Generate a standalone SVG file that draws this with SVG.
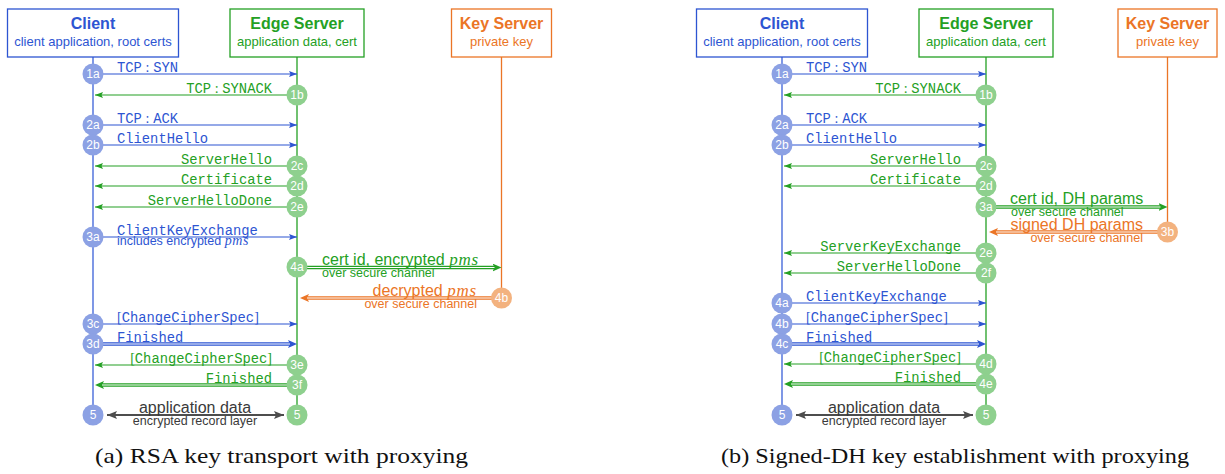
<svg xmlns="http://www.w3.org/2000/svg" width="1225" height="474" viewBox="0 0 1225 474">
<style>
.bg{fill:#fff}
.bx{fill:#fff;stroke-width:1.3}
.bxb{stroke:#2d55d2}.bxg{stroke:#24a024}.bxo{stroke:#eb7526}
.hd{font-family:"Liberation Sans",Arial,sans-serif;font-weight:bold;font-size:16px;text-anchor:middle}
.sub{font-family:"Liberation Sans",Arial,sans-serif;font-size:13px;text-anchor:middle}
.tb{fill:#2d55d2}.tg{fill:#24a024}.to{fill:#eb7526}.tk{fill:#3a3a3a}
.msg{font-family:"Liberation Mono","Courier New",monospace;font-size:13.8px}
.br{font-family:"Liberation Serif","Times New Roman",serif;font-size:14px}
.ks{font-family:"Liberation Sans",Arial,sans-serif;font-size:16px}
.sm{font-family:"Liberation Sans",Arial,sans-serif;font-size:12.5px}
.pms{font-family:"Liberation Serif","Times New Roman",serif;font-style:italic;font-size:17px;letter-spacing:0.8px}
.pmss{font-family:"Liberation Serif","Times New Roman",serif;font-style:italic;font-size:14px;letter-spacing:0.6px}
.end{text-anchor:end}.mid{text-anchor:middle}
.num{font-family:"Liberation Sans",Arial,sans-serif;font-size:12px;fill:#fff;text-anchor:middle}
.cb{fill:#8ca1e4}.cg{fill:#8ed08e}.co{fill:#f3b27f}
.life{stroke-width:1.3;fill:none}
.lb{stroke:#3a60d8}.lg{stroke:#24a024}.lo{stroke:#eb7526}
.ar{stroke-width:1.2;fill:none}
.ab{stroke:#2d55d2;marker-end:url(#mb)}
.ag{stroke:#24a024;marker-end:url(#mg)}
.dw{stroke-width:3.4;fill:none}
.db{stroke:#2d55d2;marker-end:url(#mb2)}
.dg{stroke:#24a024;marker-end:url(#mg2)}
.do{stroke:#eb7526;marker-end:url(#mo2)}
.wi{stroke:#fff;stroke-width:1.2}
.gk{stroke:#4d4d4d;stroke-width:2;marker-start:url(#mk);marker-end:url(#mk)}
.cap{font-family:"Liberation Serif","Times New Roman",serif;font-size:21px;fill:#111}
</style>
<defs>
<marker id="mb" markerUnits="userSpaceOnUse" markerWidth="9" markerHeight="7" refX="8" refY="3.5" orient="auto"><path d="M0,0.5 L8,3.5 L0,6.5 L1.5,3.5 z" fill="#2d55d2"/></marker>
<marker id="mg" markerUnits="userSpaceOnUse" markerWidth="9" markerHeight="7" refX="8" refY="3.5" orient="auto"><path d="M0,0.5 L8,3.5 L0,6.5 L1.5,3.5 z" fill="#24a024"/></marker>
<marker id="mb2" markerUnits="userSpaceOnUse" markerWidth="10" markerHeight="8" refX="4" refY="4" orient="auto"><path d="M0,0 L9,4 L0,8 L2,4 z" fill="#2d55d2"/></marker>
<marker id="mg2" markerUnits="userSpaceOnUse" markerWidth="10" markerHeight="8" refX="4" refY="4" orient="auto"><path d="M0,0 L9,4 L0,8 L2,4 z" fill="#24a024"/></marker>
<marker id="mo2" markerUnits="userSpaceOnUse" markerWidth="10" markerHeight="8" refX="4" refY="4" orient="auto"><path d="M0,0 L9,4 L0,8 L2,4 z" fill="#eb7526"/></marker>
<marker id="mk" markerUnits="userSpaceOnUse" markerWidth="11" markerHeight="9" refX="10" refY="4.5" orient="auto-start-reverse"><path d="M0,0.5 L10,4.5 L0,8.5 L2,4.5 z" fill="#4d4d4d"/></marker>
</defs>
<rect class="bg" x="0" y="0" width="1225" height="474"/>

<!-- ===================== (a) ===================== -->
<g id="lifelines-a">
<line class="life lb" x1="93" y1="57" x2="93" y2="415"/>
<line class="life lg" x1="297" y1="57" x2="297" y2="415"/>
<line class="life lo" x1="501.5" y1="57" x2="501.5" y2="298"/>
</g>
<g id="client-a"><rect class="bx bxb" x="7.5" y="9" width="171" height="48"/><text class="hd tb" x="93" y="29">Client</text><text class="sub tb" x="93" y="46">client application, root certs</text></g>
<g id="edge-a"><rect class="bx bxg" x="230" y="9" width="134" height="48"/><text class="hd tg" x="297" y="29">Edge Server</text><text class="sub tg" x="297" y="46">application data, cert</text></g>
<g id="key-a"><rect class="bx bxo" x="451.5" y="9" width="100" height="48"/><text class="hd to" x="501.5" y="29">Key Server</text><text class="sub to" x="501.5" y="46">private key</text></g>

<g id="connectors-a">
<line class="ar ab" x1="93" y1="74" x2="297" y2="74"/>
<line class="ar ag" x1="297" y1="95" x2="95" y2="95"/>
<line class="ar ab" x1="93" y1="125" x2="297" y2="125"/>
<line class="ar ab" x1="93" y1="145" x2="297" y2="145"/>
<line class="ar ag" x1="297" y1="166" x2="95" y2="166"/>
<line class="ar ag" x1="297" y1="186" x2="95" y2="186"/>
<line class="ar ag" x1="297" y1="207" x2="95" y2="207"/>
<line class="ar ab" x1="93" y1="237" x2="297" y2="237"/>
<line class="dw dg" x1="297" y1="267.5" x2="496.5" y2="267.5"/><line class="wi" x1="297" y1="267.5" x2="494.5" y2="267.5"/>
<line class="dw do" x1="501.5" y1="298" x2="305" y2="298"/><line class="wi" x1="501.5" y1="298" x2="307" y2="298"/>
<line class="ar ab" x1="93" y1="324" x2="297" y2="324"/>
<line class="dw db" x1="93" y1="344" x2="292" y2="344"/><line class="wi" x1="93" y1="344" x2="290" y2="344"/>
<line class="ar ag" x1="297" y1="365" x2="95" y2="365"/>
<line class="dw dg" x1="297" y1="385" x2="100" y2="385"/><line class="wi" x1="297" y1="385" x2="102" y2="385"/>
<line class="gk" x1="107" y1="415" x2="284" y2="415"/>
</g>

<g id="labels-a">
<text class="msg tb" x="117" y="72">TCP<tspan class="br" dx="3.7">:</tspan><tspan dx="3.7">SYN</tspan></text>
<text class="msg tg end" x="272" y="93">TCP<tspan class="br" dx="3.7">:</tspan><tspan dx="3.7">SYNACK</tspan></text>
<text class="msg tb" x="117" y="123">TCP<tspan class="br" dx="3.7">:</tspan><tspan dx="3.7">ACK</tspan></text>
<text class="msg tb" x="117" y="143">ClientHello</text>
<text class="msg tg end" x="272" y="164">ServerHello</text>
<text class="msg tg end" x="272" y="184">Certificate</text>
<text class="msg tg end" x="272" y="205">ServerHelloDone</text>
<text class="msg tb" x="117" y="234.5">ClientKeyExchange</text>
<text class="sm tb" x="117" y="245">includes encrypted <tspan class="pmss">pms</tspan></text>
<text class="ks tg" x="322" y="265">cert id, encrypted <tspan class="pms">pms</tspan></text>
<text class="sm tg" x="322" y="277">over secure channel</text>
<text class="ks to end" x="477" y="296">decrypted <tspan class="pms">pms</tspan></text>
<text class="sm to end" x="477" y="308">over secure channel</text>
<text class="msg tb" x="117" y="322"><tspan class="br">[</tspan>ChangeCipherSpec<tspan class="br">]</tspan></text>
<text class="msg tb" x="117" y="342">Finished</text>
<text class="msg tg end" x="272" y="363"><tspan class="br">[</tspan>ChangeCipherSpec<tspan class="br">]</tspan></text>
<text class="msg tg end" x="272" y="383">Finished</text>
<text class="ks tk mid" x="195" y="413">application data</text>
<text class="sm tk mid" x="195" y="424.5">encrypted record layer</text>
</g>

<g id="steps-a">
<g id="a-1a"><circle class="cb" cx="93" cy="74" r="10.5"/><text class="num" x="93" y="78.3">1a</text></g>
<g id="a-1b"><circle class="cg" cx="297" cy="95" r="10.5"/><text class="num" x="297" y="99.3">1b</text></g>
<g id="a-2a"><circle class="cb" cx="93" cy="125" r="10.5"/><text class="num" x="93" y="129.3">2a</text></g>
<g id="a-2b"><circle class="cb" cx="93" cy="145" r="10.5"/><text class="num" x="93" y="149.3">2b</text></g>
<g id="a-2c"><circle class="cg" cx="297" cy="166" r="10.5"/><text class="num" x="297" y="170.3">2c</text></g>
<g id="a-2d"><circle class="cg" cx="297" cy="186" r="10.5"/><text class="num" x="297" y="190.3">2d</text></g>
<g id="a-2e"><circle class="cg" cx="297" cy="207" r="10.5"/><text class="num" x="297" y="211.3">2e</text></g>
<g id="a-3a"><circle class="cb" cx="93" cy="237" r="10.5"/><text class="num" x="93" y="241.3">3a</text></g>
<g id="a-4a"><circle class="cg" cx="297" cy="267" r="10.5"/><text class="num" x="297" y="271.3">4a</text></g>
<g id="a-4b"><circle class="co" cx="501.5" cy="298" r="10.5"/><text class="num" x="501.5" y="302.3">4b</text></g>
<g id="a-3c"><circle class="cb" cx="93" cy="324" r="10.5"/><text class="num" x="93" y="328.3">3c</text></g>
<g id="a-3d"><circle class="cb" cx="93" cy="344" r="10.5"/><text class="num" x="93" y="348.3">3d</text></g>
<g id="a-3e"><circle class="cg" cx="297" cy="365" r="10.5"/><text class="num" x="297" y="369.3">3e</text></g>
<g id="a-3f"><circle class="cg" cx="297" cy="385" r="10.5"/><text class="num" x="297" y="389.3">3f</text></g>
<g id="a-5c"><circle class="cb" cx="93" cy="415" r="10.5"/><text class="num" x="93" y="419.3">5</text></g>
<g id="a-5e"><circle class="cg" cx="297" cy="415" r="10.5"/><text class="num" x="297" y="419.3">5</text></g>
</g>

<!-- ===================== (b) ===================== -->
<g id="lifelines-b">
<line class="life lb" x1="782" y1="57" x2="782" y2="415"/>
<line class="life lg" x1="986" y1="57" x2="986" y2="415"/>
<line class="life lo" x1="1167.5" y1="57" x2="1167.5" y2="232"/>
</g>
<g id="client-b"><rect class="bx bxb" x="696.5" y="9" width="171" height="48"/><text class="hd tb" x="782" y="29">Client</text><text class="sub tb" x="782" y="46">client application, root certs</text></g>
<g id="edge-b"><rect class="bx bxg" x="919" y="9" width="134" height="48"/><text class="hd tg" x="986" y="29">Edge Server</text><text class="sub tg" x="986" y="46">application data, cert</text></g>
<g id="key-b"><rect class="bx bxo" x="1118" y="9" width="99" height="48"/><text class="hd to" x="1167.5" y="29">Key Server</text><text class="sub to" x="1167.5" y="46">private key</text></g>

<g id="connectors-b">
<line class="ar ab" x1="782" y1="74" x2="986" y2="74"/>
<line class="ar ag" x1="986" y1="95" x2="784" y2="95"/>
<line class="ar ab" x1="782" y1="125" x2="986" y2="125"/>
<line class="ar ab" x1="782" y1="145" x2="986" y2="145"/>
<line class="ar ag" x1="986" y1="166" x2="784" y2="166"/>
<line class="ar ag" x1="986" y1="186" x2="784" y2="186"/>
<line class="dw dg" x1="986" y1="207" x2="1162.5" y2="207"/><line class="wi" x1="986" y1="207" x2="1160.5" y2="207"/>
<line class="dw do" x1="1167.5" y1="232" x2="994" y2="232"/><line class="wi" x1="1167.5" y1="232" x2="996" y2="232"/>
<line class="ar ag" x1="986" y1="253" x2="784" y2="253"/>
<line class="ar ag" x1="986" y1="273" x2="784" y2="273"/>
<line class="ar ab" x1="782" y1="303" x2="986" y2="303"/>
<line class="ar ab" x1="782" y1="324" x2="986" y2="324"/>
<line class="dw db" x1="782" y1="344" x2="981" y2="344"/><line class="wi" x1="782" y1="344" x2="979" y2="344"/>
<line class="ar ag" x1="986" y1="364" x2="784" y2="364"/>
<line class="dw dg" x1="986" y1="384" x2="789" y2="384"/><line class="wi" x1="986" y1="384" x2="791" y2="384"/>
<line class="gk" x1="796" y1="415" x2="973" y2="415"/>
</g>

<g id="labels-b">
<text class="msg tb" x="806" y="72">TCP<tspan class="br" dx="3.7">:</tspan><tspan dx="3.7">SYN</tspan></text>
<text class="msg tg end" x="961" y="93">TCP<tspan class="br" dx="3.7">:</tspan><tspan dx="3.7">SYNACK</tspan></text>
<text class="msg tb" x="806" y="123">TCP<tspan class="br" dx="3.7">:</tspan><tspan dx="3.7">ACK</tspan></text>
<text class="msg tb" x="806" y="143">ClientHello</text>
<text class="msg tg end" x="961" y="164">ServerHello</text>
<text class="msg tg end" x="961" y="184">Certificate</text>
<text class="ks tg" x="1010" y="204">cert id, DH params</text>
<text class="sm tg" x="1011" y="216">over secure channel</text>
<text class="ks to end" x="1143" y="229.5">signed DH params</text>
<text class="sm to end" x="1143" y="241.5">over secure channel</text>
<text class="msg tg end" x="961" y="251">ServerKeyExchange</text>
<text class="msg tg end" x="961" y="271">ServerHelloDone</text>
<text class="msg tb" x="806" y="301">ClientKeyExchange</text>
<text class="msg tb" x="806" y="322"><tspan class="br">[</tspan>ChangeCipherSpec<tspan class="br">]</tspan></text>
<text class="msg tb" x="806" y="342">Finished</text>
<text class="msg tg end" x="961" y="362"><tspan class="br">[</tspan>ChangeCipherSpec<tspan class="br">]</tspan></text>
<text class="msg tg end" x="961" y="382">Finished</text>
<text class="ks tk mid" x="884" y="413">application data</text>
<text class="sm tk mid" x="884" y="424.5">encrypted record layer</text>
</g>

<g id="steps-b">
<g id="b-1a"><circle class="cb" cx="782" cy="74" r="10.5"/><text class="num" x="782" y="78.3">1a</text></g>
<g id="b-1b"><circle class="cg" cx="986" cy="95" r="10.5"/><text class="num" x="986" y="99.3">1b</text></g>
<g id="b-2a"><circle class="cb" cx="782" cy="125" r="10.5"/><text class="num" x="782" y="129.3">2a</text></g>
<g id="b-2b"><circle class="cb" cx="782" cy="145" r="10.5"/><text class="num" x="782" y="149.3">2b</text></g>
<g id="b-2c"><circle class="cg" cx="986" cy="166" r="10.5"/><text class="num" x="986" y="170.3">2c</text></g>
<g id="b-2d"><circle class="cg" cx="986" cy="186" r="10.5"/><text class="num" x="986" y="190.3">2d</text></g>
<g id="b-3a"><circle class="cg" cx="986" cy="207" r="10.5"/><text class="num" x="986" y="211.3">3a</text></g>
<g id="b-3b"><circle class="co" cx="1167.5" cy="232" r="10.5"/><text class="num" x="1167.5" y="236.3">3b</text></g>
<g id="b-2e"><circle class="cg" cx="986" cy="253" r="10.5"/><text class="num" x="986" y="257.3">2e</text></g>
<g id="b-2f"><circle class="cg" cx="986" cy="273" r="10.5"/><text class="num" x="986" y="277.3">2f</text></g>
<g id="b-4a"><circle class="cb" cx="782" cy="303" r="10.5"/><text class="num" x="782" y="307.3">4a</text></g>
<g id="b-4b"><circle class="cb" cx="782" cy="324" r="10.5"/><text class="num" x="782" y="328.3">4b</text></g>
<g id="b-4c"><circle class="cb" cx="782" cy="344" r="10.5"/><text class="num" x="782" y="348.3">4c</text></g>
<g id="b-4d"><circle class="cg" cx="986" cy="364" r="10.5"/><text class="num" x="986" y="368.3">4d</text></g>
<g id="b-4e"><circle class="cg" cx="986" cy="384" r="10.5"/><text class="num" x="986" y="388.3">4e</text></g>
<g id="b-5c"><circle class="cb" cx="782" cy="415" r="10.5"/><text class="num" x="782" y="419.3">5</text></g>
<g id="b-5e"><circle class="cg" cx="986" cy="415" r="10.5"/><text class="num" x="986" y="419.3">5</text></g>
</g>

<g id="captions">
<text class="cap" x="95" y="463" textLength="373" lengthAdjust="spacingAndGlyphs">(a) RSA key transport with proxying</text>
<text class="cap" x="721" y="463" textLength="468" lengthAdjust="spacingAndGlyphs">(b) Signed-DH key establishment with proxying</text>
</g>
</svg>
